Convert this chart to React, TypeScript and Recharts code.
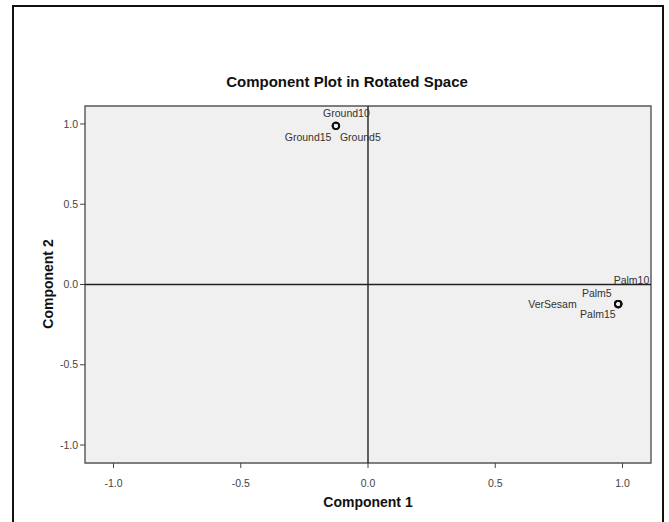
import React from 'react';
import {
  ScatterChart,
  Scatter,
  XAxis,
  YAxis,
  ReferenceLine,
  ReferenceArea,
  Customized,
} from 'recharts';

// ---- data ----
const pointNames = ['Ground5', 'Ground10', 'Ground15', 'VerSesam', 'Palm5', 'Palm10', 'Palm15'];
const component1 = [-0.126, -0.126, -0.126, 0.983, 0.983, 0.983, 0.983];
const component2 = [0.988, 0.988, 0.988, -0.122, -0.122, -0.122, -0.122];
const tickValues = [-1.0, -0.5, 0.0, 0.5, 1.0];
const axisDomain: [number, number] = [-1.112, 1.112];

const chartTitle = 'Component Plot in Rotated Space';
const xTitle = 'Component 1';
const yTitle = 'Component 2';

// ---- styles (label placement around each marker) ----
const labelPlacement: Record<string, { dx: number; dy: number; anchor: 'start' | 'middle' | 'end' }> = {
  Ground10: { dx: 10.5, dy: -8.5, anchor: 'middle' },
  Ground15: { dx: -4.5, dy: 15, anchor: 'end' },
  Ground5: { dx: 4, dy: 15, anchor: 'start' },
  Palm10: { dx: -4.5, dy: -20.5, anchor: 'start' },
  Palm5: { dx: -6.5, dy: -7.5, anchor: 'end' },
  VerSesam: { dx: -41.5, dy: 3.5, anchor: 'end' },
  Palm15: { dx: -2.5, dy: 13.5, anchor: 'end' },
};

const FONT = '"Liberation Sans", Arial, sans-serif';

const data = pointNames.map((name, i) => ({ name, x: component1[i], y: component2[i] }));

const PointShape = (props: any) => {
  const { cx, cy, payload } = props;
  const p = labelPlacement[payload.name] || { dx: 5, dy: 0, anchor: 'start' };
  return (
    <g>
      <circle cx={cx} cy={cy} r={3.3} fill="none" stroke="#111" strokeWidth={1.8} />
      <text
        x={cx + p.dx}
        y={cy + p.dy}
        textAnchor={p.anchor}
        fontSize={10.5}
        fontFamily={FONT}
        fill="#333"
      >
        {payload.name}
      </text>
    </g>
  );
};

const Titles = () => (
  <g fontFamily={FONT} fontWeight="bold" fill="#111">
    <text x={347} y={87} textAnchor="middle" fontSize={15}>
      {chartTitle}
    </text>
    <text x={368} y={507} textAnchor="middle" fontSize={14}>
      {xTitle}
    </text>
    <text x={53} y={284} textAnchor="middle" fontSize={14} transform="rotate(-90 53 284)">
      {yTitle}
    </text>
  </g>
);

const fmt = (v: number) => v.toFixed(1);

export default function App() {
  return (
    <div style={{ position: 'absolute', left: 0, top: 0, width: 669, height: 522, background: '#fff', overflow: 'hidden' }}>
      <div
        style={{
          position: 'absolute',
          left: 12,
          top: 5,
          width: 652,
          height: 540,
          border: '2px solid #111',
          boxSizing: 'border-box',
        }}
      />
      <div style={{ position: 'absolute', left: 0, top: 0 }}>
        <ScatterChart
          width={669}
          height={522}
          margin={{ top: 106, right: 18, bottom: 29, left: 25 }}
        >
          <XAxis
            type="number"
            dataKey="x"
            domain={axisDomain}
            ticks={tickValues}
            tickFormatter={fmt}
            allowDataOverflow
            height={30}
            axisLine={false}
            tickLine={{ stroke: '#444' }}
            tickSize={5}
            tickMargin={12}
            tick={{ fontSize: 10.5, fontFamily: FONT, fill: '#444' }}
          />
          <YAxis
            type="number"
            dataKey="y"
            domain={axisDomain}
            ticks={tickValues}
            tickFormatter={fmt}
            allowDataOverflow
            width={60}
            axisLine={false}
            tickLine={{ stroke: '#444' }}
            tickSize={5}
            tickMargin={2}
            tick={{ fontSize: 10.5, fontFamily: FONT, fill: '#444' }}
          />
          <ReferenceArea
            x1={axisDomain[0]}
            x2={axisDomain[1]}
            y1={axisDomain[0]}
            y2={axisDomain[1]}
            fill="#f0f0f0"
            fillOpacity={1}
            stroke="#555"
            strokeWidth={1.4}
          />
          <ReferenceLine x={0} stroke="#222" strokeWidth={1.4} />
          <ReferenceLine y={0} stroke="#222" strokeWidth={1.4} />
          <Scatter data={data} shape={PointShape} isAnimationActive={false} />
          <Customized component={Titles} />
        </ScatterChart>
      </div>
    </div>
  );
}
